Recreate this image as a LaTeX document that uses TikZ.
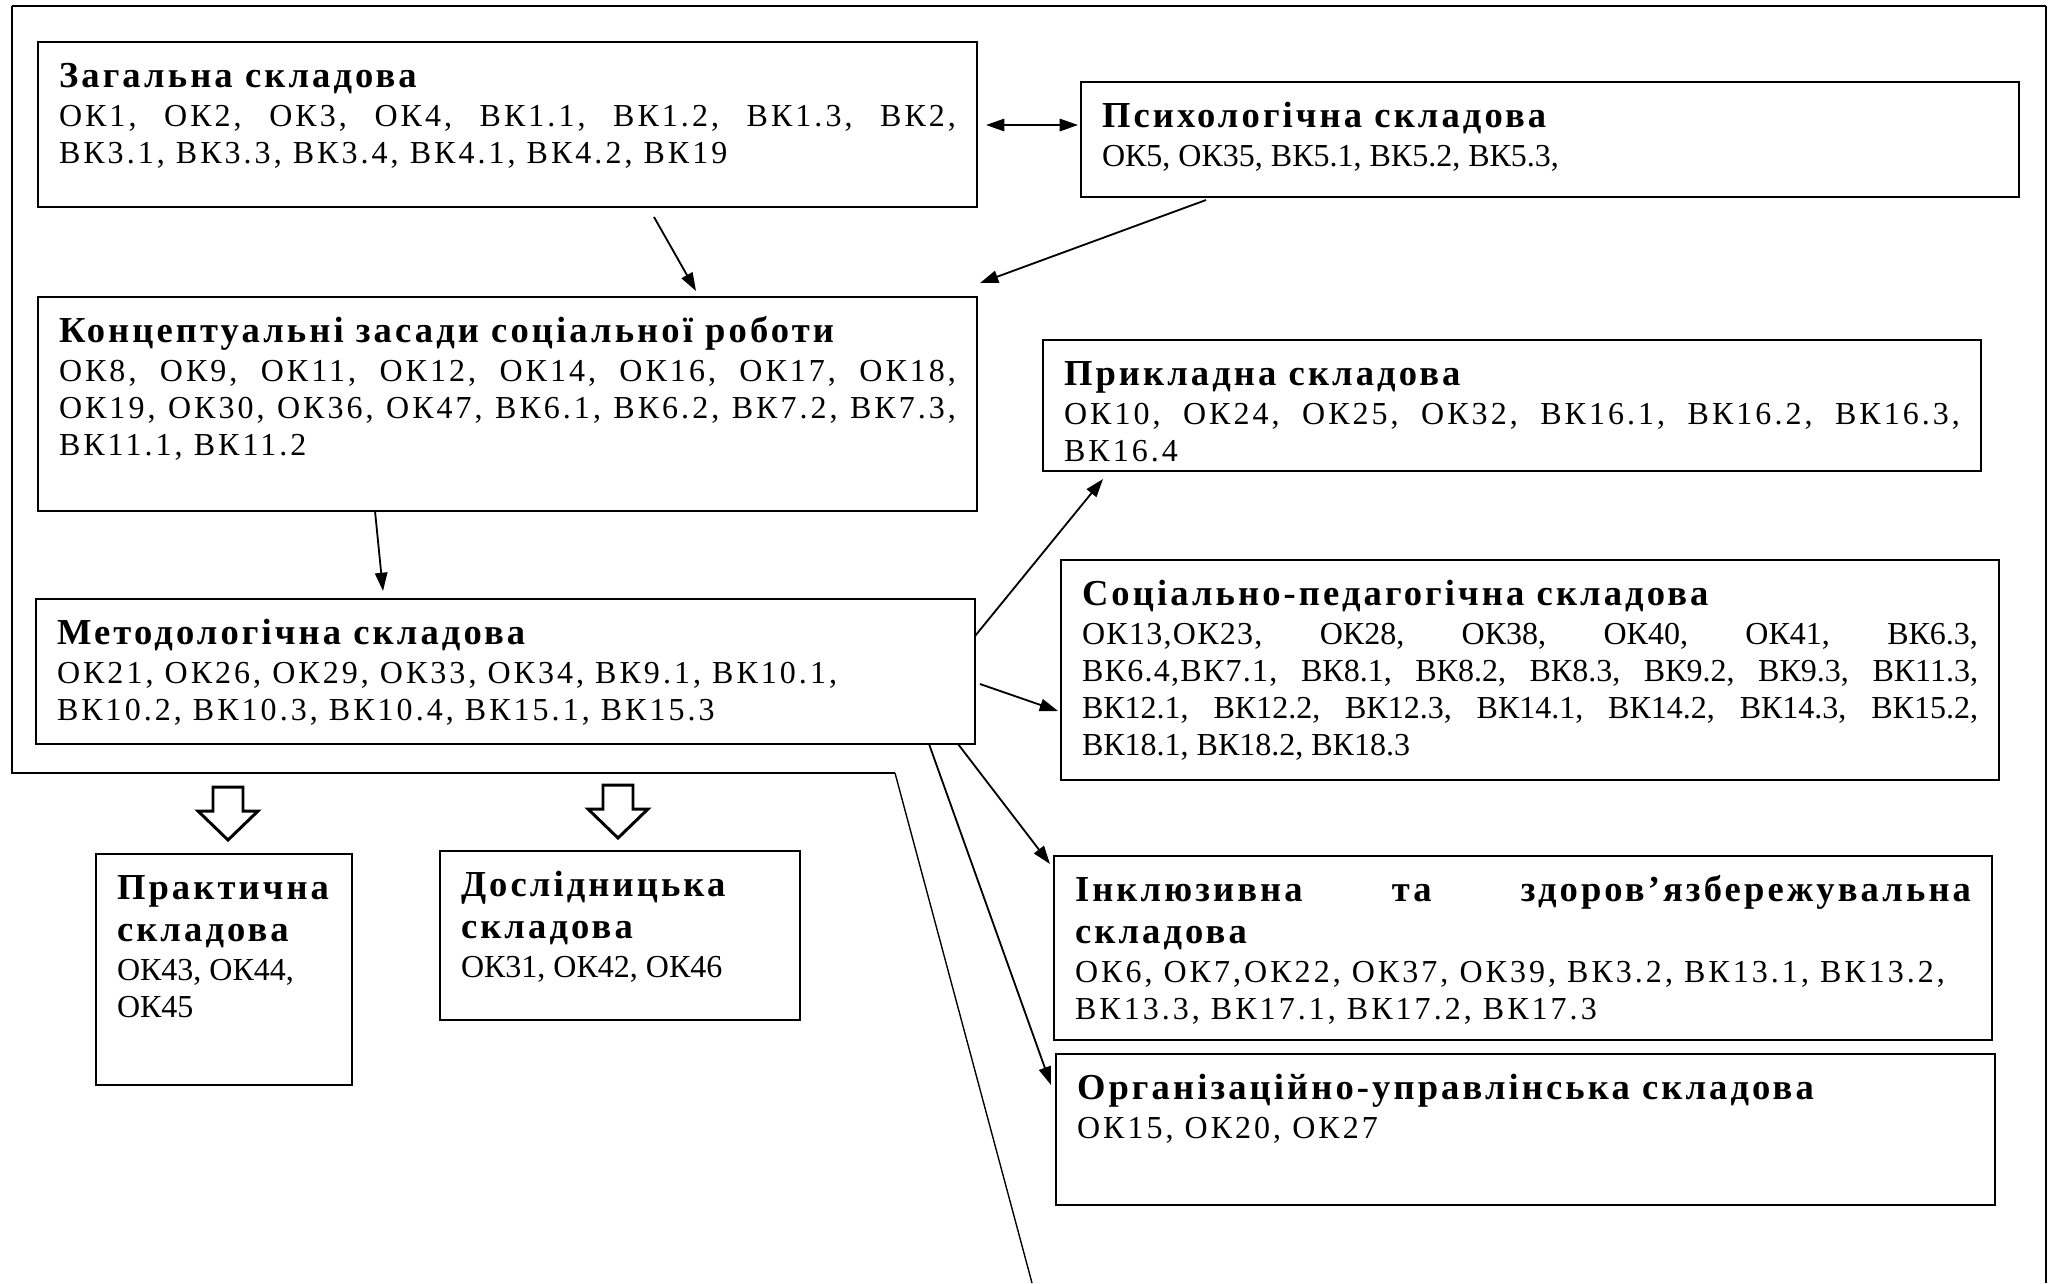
\documentclass[tikz,border=0pt]{standalone}
\usepackage{fontspec}
\setmainfont{Liberation Serif}
\newfontfamily\ttlfont{Liberation Serif}[LetterSpace=8.5]
\newfontfamily\spfont{Liberation Serif}[LetterSpace=9.5]
\newfontfamily\spmid{Liberation Serif}[LetterSpace=4]
\usetikzlibrary{arrows.meta,calc}
\newlength\px \setlength\px{0.4375pt}
\hyphenpenalty=10000 \exhyphenpenalty=10000 \tolerance=10000 \hbadness=10000 \hfuzz=50pt
\newcommand\ttl{\ttlfont\bfseries\fontsize{16pt}{42\px}\selectfont}
\newcommand\bd{\spfont\fontsize{14pt}{37\px}\selectfont}
\newcommand\bdm{\spmid\fontsize{14pt}{37\px}\selectfont}
\newcommand\bdn{\rmfamily\fontsize{14pt}{37\px}\selectfont}
\newcommand\hd[1]{{\ttl\rule{0pt}{45\px}#1\par}\vspace{2\px}}
\tikzset{
  cbox/.style={draw, line width=0.7pt, inner xsep=21\px, inner ysep=0pt, outer sep=0pt, anchor=north west},
  arr/.style={line width=0.8pt, -{Triangle[length=8pt,width=5.4pt]}},
  darr/.style={line width=0.8pt, {Triangle[length=8pt,width=5.4pt]}-{Triangle[length=8pt,width=5.4pt]}},
  frame/.style={line width=0.6pt},
  hollow/.style={line width=1.3pt, line join=miter}
}
\newcommand\cbox[6]{%
  \node[cbox] (#1) at (#2,#3) {\parbox[t][\dimexpr#5\px-#3\px\relax][t]{\dimexpr#4\px-#2\px-42\px\relax}{#6}};}
\begin{document}
\begin{tikzpicture}[x=0.4375pt,y=-0.4375pt]
\useasboundingbox (0,0) rectangle (2062,1283);
% outer frame
\draw[line width=1.2pt] (12,6) -- (2046,6);
\draw[frame] (12,6) -- (12,774);
\draw[line width=1.0pt] (12,773) -- (895,773);
\draw[frame] (895,773) -- (1032,1283);
\draw[frame] (2046,6) -- (2046,1283);
% boxes
\cbox{zag}{38}{42}{977}{207}{\hd{Загальна складова}{\bd ОК1, ОК2, ОК3, ОК4, ВК1.1, ВК1.2, ВК1.3, ВК2,\linebreak ВК3.1, ВК3.3, ВК3.4, ВК4.1, ВК4.2, ВК19\par}}
\cbox{psy}{1081}{82}{2019}{197}{\hd{Психологічна складова}{\bdn ОК5, ОК35, ВК5.1, ВК5.2, ВК5.3,\par}}
\cbox{konc}{38}{297}{977}{511}{\hd{Концептуальні засади соціальної роботи}{\bd ОК8, ОК9, ОК11, ОК12, ОК14, ОК16, ОК17, ОК18,\linebreak ОК19, ОК30, ОК36, ОК47, ВК6.1, ВК6.2, ВК7.2, ВК7.3,\linebreak ВК11.1, ВК11.2\par}}
\cbox{met}{36}{599}{975}{744}{\hd{Методологічна складова}{\bd ОК21, ОК26, ОК29, ОК33, ОК34, ВК9.1, ВК10.1,\newline ВК10.2, ВК10.3, ВК10.4, ВК15.1, ВК15.3\par}}
\cbox{prykl}{1043}{340}{1981}{471}{\hd{Прикладна складова}{\bd ОК10, ОК24, ОК25, ОК32, ВК16.1, ВК16.2, ВК16.3,\linebreak ВК16.4\par}}
\cbox{socped}{1061}{560}{1999}{780}{\hd{Соціально-педагогічна складова}{\bdn {\bdm ОК13,ОК23,} ОК28, ОК38, ОК40, ОК41, ВК6.3,\linebreak {\bdm ВК6.4,ВК7.1,} ВК8.1, ВК8.2, ВК8.3, ВК9.2, ВК9.3, ВК11.3,\linebreak ВК12.1, ВК12.2, ВК12.3, ВК14.1, ВК14.2, ВК14.3, ВК15.2,\linebreak ВК18.1, ВК18.2, ВК18.3\par}}
\cbox{inkl}{1054}{856}{1992}{1040}{\hd{Інклюзивна та здоров’язбережувальна\linebreak складова}{\bd ОК6, ОК7,ОК22, ОК37, ОК39, ВК3.2, ВК13.1, ВК13.2,\newline ВК13.3, ВК17.1, ВК17.2, ВК17.3\par}}
\cbox{org}{1056}{1054}{1995}{1205}{\hd{Організаційно-управлінська складова}{\bd ОК15, ОК20, ОК27\par}}
\cbox{prak}{96}{854}{352}{1085}{\hd{Практична\newline складова}{\bdn ОК43, ОК44,\newline ОК45\par}}
\cbox{dosl}{440}{851}{800}{1020}{\hd{Дослідницька\newline складова}{\bdn ОК31, ОК42, ОК46\par}}
% connectors
\draw[darr] ($(zag.north east)+(9,83)$) -- ($(psy.north west)+(-3,43)$);
\draw[arr] ($(zag.south west)+(616,10)$) -- ($(konc.north west)+(658,-6)$);
\draw[arr] ($(psy.south west)+(125,3)$) -- ($(konc.north east)+(3,-14)$);
\draw[arr] ($(konc.south west)+(337,0)$) -- ($(met.north west)+(347,-8)$);
\draw[arr] ($(met.north east)+(0,37)$) -- ($(prykl.south west)+(60,8)$);
\draw[arr] ($(met.north east)+(5,85)$) -- ($(socped.north west)+(-3,151)$);
\draw[arr] ($(met.south east)+(-17,0)$) -- ($(inkl.north west)+(-4,8)$);
\draw[arr] ($(met.south east)+(-46,0)$) -- ($(org.north west)+(-5,31)$);
% hollow block arrows
\draw[hollow] (213,787) -- (243,787) -- (243,811) -- (258,811) -- (228,840) -- (198,811) -- (213,811) -- cycle;
\draw[hollow] (603,785) -- (633,785) -- (633,809) -- (648,809) -- (618,838) -- (588,809) -- (603,809) -- cycle;
\end{tikzpicture}
\end{document}
